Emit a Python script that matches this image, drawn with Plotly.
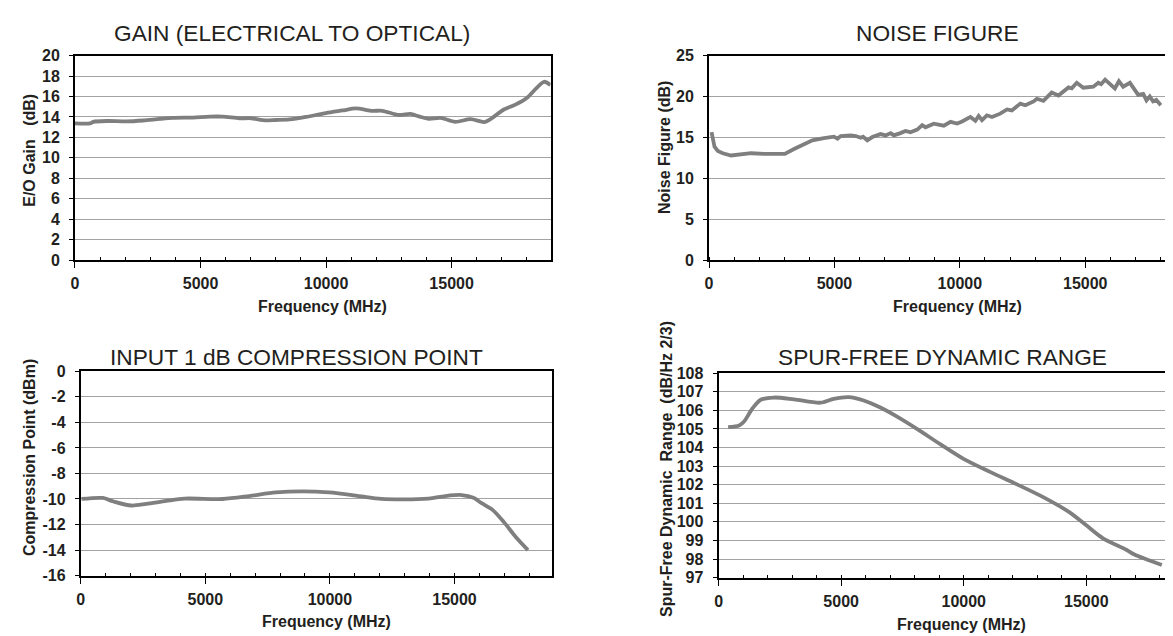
import plotly.graph_objects as go

W, H = 1173, 636

# ---------------- data ----------------
gain_freq = [0, 600, 730, 1260, 2060, 2720, 3380, 3910, 4700, 5360, 5890, 6550, 7020, 7480,
             8000, 8540, 9200, 9990, 10650, 11180, 11850, 12240, 12900, 13360, 13690, 14090,
             14560, 15150, 15750, 16300, 16550, 17080, 17540, 17990, 18370, 18680, 18940]
gain_db = [13.37, 13.37, 13.52, 13.6, 13.56, 13.65, 13.8, 13.9, 13.94, 14.03, 14.03, 13.87,
           13.87, 13.68, 13.7, 13.75, 14.0, 14.38, 14.63, 14.83, 14.6, 14.6, 14.19, 14.29,
           14.06, 13.81, 13.9, 13.52, 13.78, 13.5, 13.78, 14.73, 15.2, 15.85, 16.8, 17.44, 17.12]

noise_freq = [100, 150, 220, 350, 550, 880, 1280, 1680, 2200, 2730, 3020, 3390, 3790, 4120,
              4580, 4980, 5120, 5250, 5650, 5850, 6050, 6140, 6310, 6510, 6840, 7040, 7240,
              7370, 7630, 7830, 8030, 8300, 8500, 8630, 8960, 9230, 9360, 9630, 9890, 10090,
              10290, 10420, 10620, 10750, 10880, 11080, 11280, 11610, 11880, 12070, 12410,
              12610, 12940, 13070, 13330, 13660, 13930, 14330, 14460, 14660, 14920, 15320,
              15520, 15630, 15790, 16180, 16340, 16510, 16780, 17110, 17310, 17440, 17570,
              17700, 17830, 18010]
noise_db = [15.63, 14.84, 13.85, 13.33, 13.06, 12.78, 12.94, 13.06, 12.98, 12.94, 12.98, 13.57,
            14.17, 14.64, 14.92, 15.08, 14.84, 15.16, 15.24, 15.16, 14.96, 15.08, 14.64, 15.04,
            15.4, 15.24, 15.52, 15.24, 15.52, 15.79, 15.63, 15.95, 16.5, 16.23, 16.67, 16.5,
            16.43, 16.9, 16.7, 16.94, 17.34, 17.5, 17.02, 17.62, 17.1, 17.7, 17.5, 17.9, 18.41,
            18.29, 19.13, 18.93, 19.4, 19.72, 19.48, 20.48, 20.12, 21.11, 20.99, 21.67, 21.07,
            21.19, 21.67, 21.5, 22.06, 20.99, 21.87, 21.19, 21.67, 20.2, 20.32, 19.52, 20.0,
            19.4, 19.6, 18.93]

comp_freq = [30, 890, 1290, 2030, 2630, 3430, 4160, 5690, 6760, 7830, 8890, 9960, 10890,
             11830, 12630, 13960, 14630, 15290, 15760, 16090, 16530, 17000, 17450, 17950]
comp_dbm = [-10.0, -9.92, -10.18, -10.51, -10.38, -10.15, -9.97, -10.0, -9.77, -9.49, -9.41,
            -9.49, -9.69, -9.95, -10.03, -9.97, -9.77, -9.69, -9.9, -10.33, -10.85, -11.85,
            -12.95, -14.0]

sfdr_freq = [390, 840, 1040, 1380, 1720, 2260, 3080, 4160, 4700, 5310, 5920, 6600, 7280,
             8090, 9040, 9990, 11070, 12150, 13240, 14320, 15000, 15680, 16630, 16960, 18080]
sfdr_val = [105.1, 105.19, 105.4, 106.1, 106.57, 106.69, 106.59, 106.41, 106.62, 106.71,
            106.53, 106.15, 105.66, 105.0, 104.18, 103.39, 102.69, 102.03, 101.33, 100.51,
            99.81, 99.11, 98.5, 98.24, 97.68]

# tick labels
x_ticks = [0, 5000, 10000, 15000]
x_tick_labels = ["0", "5000", "10000", "15000"]
gain_ticks = list(range(0, 21, 2))
noise_ticks = list(range(0, 26, 5))
comp_ticks = list(range(-16, 1, 2))
comp_tick_labels = [str(v) for v in comp_ticks]
sfdr_ticks = list(range(97, 109))

titles = ["GAIN (ELECTRICAL TO OPTICAL)", "NOISE FIGURE",
          "INPUT 1 dB COMPRESSION POINT", "SPUR-FREE DYNAMIC RANGE"]
ytitles = ["E/O Gain\u00a0\u00a0\u00a0(dB)", "Noise Figure (dB)", "Compression Point (dBm)",
           "Spur-Free Dynamic\u00a0\u00a0Range\u00a0\u00a0(dB/Hz 2/3)"]
xtitle = "Frequency (MHz)"

# ---------------- style ----------------
LINE = "#7f7f7f"
TXT = "#231f20"
FAM = "Liberation Sans, Arial, sans-serif"
tickfont = dict(family=FAM, size=16, color=TXT, weight="bold")

def xd(a, b):
    return [a / W, min(b / W, 1.0)]

def yd(top, bottom):
    return [1 - bottom / H, 1 - top / H]

fig = go.Figure()
series = [(gain_freq, gain_db, "spline"), (noise_freq, noise_db, "linear"),
          (comp_freq, comp_dbm, "spline"), (sfdr_freq, sfdr_val, "spline")]
for i, (xs, ys, shape) in enumerate(series):
    sfx = "" if i == 0 else str(i + 1)
    fig.add_trace(go.Scatter(x=xs, y=ys, mode="lines", xaxis="x" + sfx, yaxis="y" + sfx,
                             line=dict(color=LINE, width=3.8, shape=shape, smoothing=0.8),
                             showlegend=False, hoverinfo="skip"))

# geometry of each panel: (left, right, top, bottom, xmax, yrange, yticks, ylabels, mirror_y)
panels = [
    (63.2, 540.4, 40.7, 250.7, 18940, [0, 20], gain_ticks, [str(v) for v in gain_ticks], True),
    (699.4, 1173, 40.7, 250.7, 18816, [0, 25], noise_ticks, [str(v) for v in noise_ticks], False),
    (69.0, 541.5, 365.0, 575.0, 18900, [-16, 0], comp_ticks, comp_tick_labels, True),
    (709.0, 1173, 367.0, 577.0, 18862, [97, 108], sfdr_ticks, [str(v) for v in sfdr_ticks], False),
]

layout = dict(width=W, height=H, margin=dict(l=0, r=0, t=0, b=0),
              paper_bgcolor="white", plot_bgcolor="white", showlegend=False)
for i, (l, r, t, b, xmax, yr, yt, ytl, mir) in enumerate(panels):
    sfx = "" if i == 0 else str(i + 1)
    layout["xaxis" + sfx] = dict(
        domain=xd(l, r), range=[0, xmax], anchor="y" + sfx,
        showline=True, linecolor="black", linewidth=2, mirror=True,
        showgrid=False, zeroline=False,
        tickmode="array", tickvals=x_ticks, ticktext=x_tick_labels,
        ticks="outside", ticklen=6, tickwidth=1, tickcolor="black", tickfont=tickfont,
        ticklabelstandoff=2,
        minor=dict(tickmode="linear", tick0=0, dtick=1000, ticks="inside", ticklen=3,
                   tickwidth=1, tickcolor="black", showgrid=False),
    )
    layout["yaxis" + sfx] = dict(
        domain=yd(t, b), range=yr, anchor="x" + sfx,
        showline=True, linecolor="black", linewidth=2, mirror=mir,
        showgrid=True, gridcolor="#a3a3a3", gridwidth=1.3, zeroline=False,
        tickmode="array", tickvals=yt, ticktext=ytl,
        ticks="outside", ticklen=4, tickwidth=1, tickcolor="black", tickfont=tickfont,
        ticklabelstandoff=6,
    )

ann = []
title_pos = [(281.3, 17), (928.4, 17), (285.0, 350), (933.6, 350)]
for (x, y), txt in zip(title_pos, titles):
    ann.append(dict(x=x / W, y=1 - y / H, xref="paper", yref="paper", text=txt,
                    showarrow=False, xanchor="center", yanchor="middle",
                    font=dict(family=FAM, size=22.7, color=TXT)))
xt_pos = [(312, 298.3), (948.5, 298.3), (315.3, 621.7), (952.5, 625)]
for x, y in xt_pos:
    ann.append(dict(x=x / W, y=1 - y / H, xref="paper", yref="paper", text=xtitle,
                    showarrow=False, xanchor="center", yanchor="middle",
                    font=dict(family=FAM, size=16, color=TXT, weight="bold")))
yt_pos = [(17.2, 138.3), (654.8, 135), (18.3, 454), (656.7, 465)]
for (x, y), txt in zip(yt_pos, ytitles):
    ann.append(dict(x=x / W, y=1 - y / H, xref="paper", yref="paper", text=txt,
                    showarrow=False, xanchor="center", yanchor="middle", textangle=-90,
                    font=dict(family=FAM, size=16, color=TXT, weight="bold")))
layout["annotations"] = ann

fig.update_layout(**layout)
fig.write_html("out.html")
